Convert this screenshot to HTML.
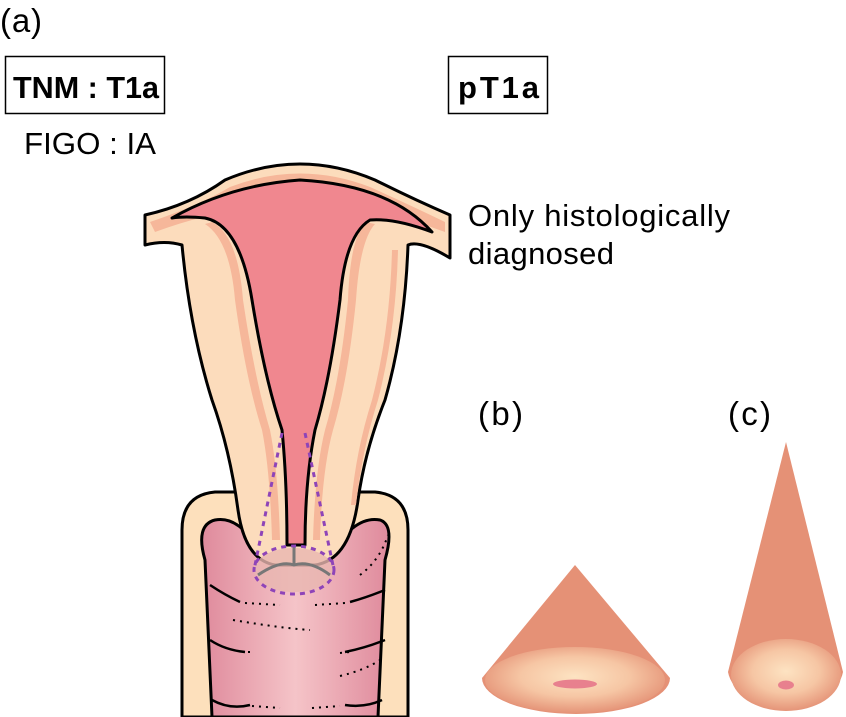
<!DOCTYPE html>
<html><head><style>
body{margin:0;background:#fff;}
svg{display:block;font-family:"Liberation Sans",sans-serif;}
</style></head><body>
<svg width="846" height="717" viewBox="0 0 846 717">
<defs>
<radialGradient id="gb" cx="0.5" cy="0.45" r="0.55">
<stop offset="0" stop-color="#fde3c2"/><stop offset="0.55" stop-color="#f6c6a4"/><stop offset="1" stop-color="#e59478"/></radialGradient>
<linearGradient id="vg" x1="0" x2="1"><stop offset="0" stop-color="#df8a9c"/><stop offset="0.5" stop-color="#f5c4c8"/><stop offset="1" stop-color="#df8a9c"/></linearGradient>
</defs>
<text x="0" y="32" font-size="33" textLength="42">(a)</text>
<rect x="5.5" y="56.5" width="159" height="57" fill="none" stroke="#000" stroke-width="1.5"/>
<text x="13" y="98" font-size="31" font-weight="bold" textLength="146" lengthAdjust="spacingAndGlyphs">TNM : T1a</text>
<rect x="448.5" y="56.5" width="99" height="57" fill="none" stroke="#000" stroke-width="1.5"/>
<text x="458" y="98" font-size="31" font-weight="bold" textLength="81">pT1a</text>
<text x="24" y="154" font-size="31" textLength="132" lengthAdjust="spacingAndGlyphs">FIGO : IA</text>
<text x="468" y="226" font-size="31" textLength="262">Only histologically</text>
<text x="468" y="264" font-size="31" textLength="146">diagnosed</text>
<text x="478" y="425" font-size="33" textLength="45">(b)</text>
<text x="728" y="425" font-size="33" textLength="43">(c)</text>

<!-- vagina -->
<path d="M182,717 L182,530 Q182,495 215,492 L375,492 Q408,495 408,530 L408,717 Z" fill="#fde0bc" stroke="#000" stroke-width="3"/>
<path d="M212,717 L205,560 Q195,525 215,520 Q240,515 262,555 L330,555 Q355,515 380,520 Q395,525 385,560 L378,717 Z" fill="url(#vg)" stroke="#000" stroke-width="3"/>
<g stroke="#000" stroke-width="2.5" fill="none">
<path d="M210,585 Q225,595 240,602"/><path d="M350,602 Q365,598 385,590"/>
<path d="M210,640 Q225,650 245,652"/><path d="M345,652 Q365,648 385,640"/>
<path d="M212,700 Q230,710 250,705"/><path d="M345,705 Q365,708 382,700"/>
</g>
<g stroke="#000" stroke-width="2" fill="none" stroke-dasharray="2,5">
<path d="M245,603 L280,605"/><path d="M315,605 L345,603"/>
<path d="M233,620 Q280,628 310,630"/>
<path d="M248,652 L255,652"/><path d="M340,653 L350,652"/>
<path d="M340,676 Q365,670 380,660"/><path d="M360,575 Q380,560 388,535"/>
<path d="M252,706 L280,708"/><path d="M312,708 L340,706"/>
</g>

<!-- uterus -->
<path d="M145,215 Q190,205 225,180 Q300,148 375,180 Q415,200 450,215 L450,258 Q420,240 408,245 Q405,330 385,400 Q365,450 358,500 Q350,560 315,565 L275,565 Q245,560 238,510 Q230,450 212,400 Q190,330 182,245 Q165,240 145,245 Z" fill="#fcdcbc" stroke="#000" stroke-width="3" stroke-linejoin="round"/>
<path d="M150,222 Q200,205 230,187 Q300,160 370,187 Q410,205 445,222 L445,232 Q300,178 155,232 Z" fill="#f6b79a"/>
<path d="M212,222 Q238,235 243,300 Q255,380 270,430 Q278,470 280,540 L272,540 Q270,470 262,430 Q246,380 235,300 Q230,240 205,224 Z" fill="#f6b79a"/>
<path d="M365,222 Q350,240 348,300 Q340,380 325,430 Q315,470 313,540 L320,540 Q322,470 333,430 Q348,380 356,300 Q360,240 375,224 Z" fill="#f6b79a"/>
<path d="M398,250 Q396,330 378,400 Q362,450 356,505 L351,505 Q356,450 372,400 Q390,330 392,250 Z" fill="#f6b79a"/>
<path d="M172,218 Q230,185 300,180 Q390,185 432,232 Q395,218 370,220 Q345,235 340,300 Q330,380 315,430 Q305,480 305,545 L287,545 Q287,480 282,430 Q265,380 252,300 Q240,225 205,218 Q185,216 172,218 Z" fill="#f0878f" stroke="#000" stroke-width="3" stroke-linejoin="round"/>
<!-- highlight ellipse -->
<ellipse cx="294" cy="570" rx="40" ry="22" fill="#e8b6b0" opacity="0.8"/>
<path d="M258,575 Q280,560 294,565 Q310,560 330,575" fill="none" stroke="#777" stroke-width="3"/>
<path d="M294,545 L294,565" stroke="#777" stroke-width="3"/>
<ellipse cx="294" cy="570" rx="40" ry="24" fill="none" stroke="#8e44b8" stroke-width="3" stroke-dasharray="5,5"/>
<path d="M282,433 L254,570 M305,433 L334,570" stroke="#8e44b8" stroke-width="3" stroke-dasharray="5,5"/>

<!-- cones -->
<path d="M575,565 L482,678 A94,36 0 0 0 670,678 Z" fill="#e59176"/>
<ellipse cx="575" cy="680" rx="90" ry="33" fill="url(#gb)"/>
<ellipse cx="575" cy="684" rx="22" ry="4.5" fill="#e8808e"/>
<path d="M786,442 L728,672 A58,41 0 0 0 843,672 Z" fill="#e59176"/>
<ellipse cx="786" cy="675" rx="55" ry="36" fill="url(#gb)"/>
<ellipse cx="786" cy="685" rx="8" ry="4.5" fill="#e8808e"/>
</svg>
</body></html>
